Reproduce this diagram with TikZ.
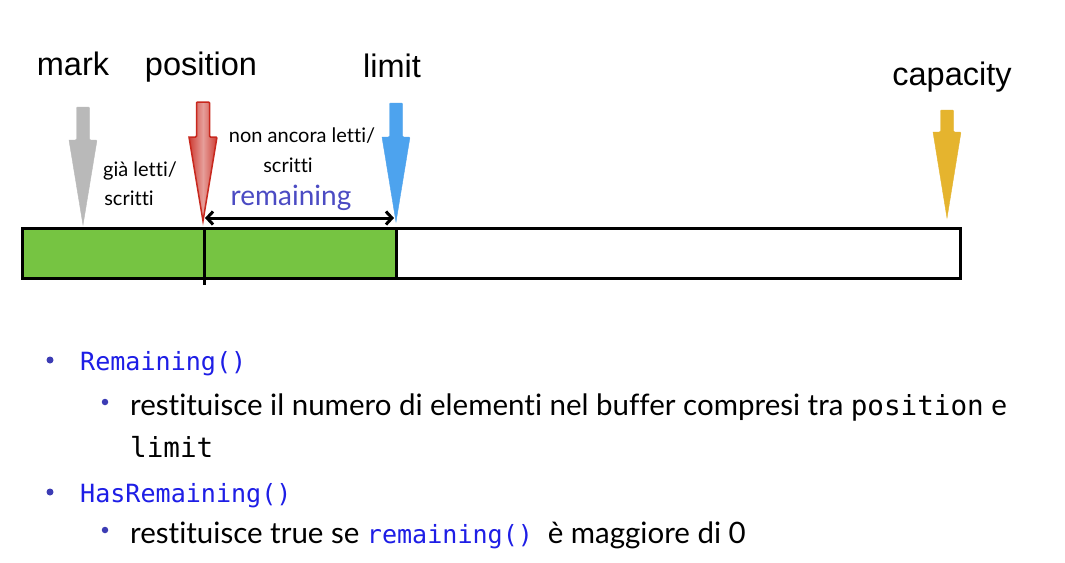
\documentclass[tikz,border=0pt]{standalone}
\usepackage{fontspec}
\setmainfont{Lato}[Ligatures={NoCommon}]
\setmonofont{DejaVu Sans Mono}[Scale=0.85]
\newfontfamily\helv{Liberation Sans}
\usetikzlibrary{positioning,arrows.meta}
\definecolor{bargreen}{HTML}{76C442}
\definecolor{ptrgray}{HTML}{B9B9B9}
\definecolor{ptrblue}{HTML}{4DA3EE}
\definecolor{ptryellow}{HTML}{E5B42E}
\definecolor{ptrred}{HTML}{C8281E}
\definecolor{codeblue}{HTML}{1E1EE6}
\definecolor{remblue}{HTML}{4B4BC3}
\definecolor{dotblue}{HTML}{3C3CB4}
\tikzset{
  toplabel/.style={inner sep=0mm, anchor=base, font=\helv\fontsize{32.5}{38}\selectfont},
  note/.style={inner sep=0mm, anchor=base, font=\fontsize{20}{24}\selectfont},
  line/.style={inner sep=0mm, anchor=base west, font=\fontsize{29.5}{34}\selectfont},
  dot/.style={circle, fill=dotblue, inner sep=0mm, minimum size=#1},
  barline/.style={line width=3pt, line cap=rect}
}
% x, top of shaft, start of head, tip
\newcommand{\pointer}[5]{
  \filldraw[#1, rounded corners=1pt] (#2-6.5,#3) -- (#2+6.5,#3) -- (#2+6.5,#4)
    -- (#2+14,#4) [sharp corners] -- (#2,#5) -- (#2-14,#4) [rounded corners=1pt]
    -- (#2-6.5,#4) -- cycle;
}
\newcommand{\bigcode}[1]{{\fontsize{32.5}{34}\selectfont\texttt{#1}}}

\begin{document}
\begin{tikzpicture}[x=1pt, y=-1pt]
   \useasboundingbox[fill=white] (0,0) rectangle (1065,562);

   % labels on top
   \node[toplabel] (mark) at (73,75) {mark};
   \node[toplabel] (pos) at (201,75) {position};
   \node[toplabel] (lim) at (392,77) {limit};
   \node[toplabel] (cap) at (952,85) {capacity};

   % pointers
   \pointer{fill=ptrgray, draw=ptrgray}{83}{107}{140}{225}
   \pointer{left color=ptrred!90, right color=ptrred!90, middle color=ptrred!45,
     draw=ptrred, line width=1.5pt}{203}{102}{137}{221}
   \pointer{fill=ptrblue, draw=ptrblue}{396}{103}{137}{222}
   \pointer{fill=ptryellow, draw=ptryellow}{947}{110}{132}{218}

   \node[note] (gia) at (140,176) {già letti/};
   \node[note] (gia2) at (129,205) {scritti};
   \node[note] (non) at (302,142) {non ancora letti/};
   \node[note] (non2) at (288,172) {scritti};
   \node[note, text=remblue, font=\fontsize{28}{32}\selectfont] (rem) at (291,205) {remaining};

   % buffer
   \fill[bargreen] (22,228) rectangle (396,278);
   \draw[barline] (22,228) rectangle (960,278);
   \draw[barline] (396,228) -- (396,278);
   \draw[barline] (204,228) -- (204,283);

   \coordinate (postip) at (205,218);
   \coordinate (limtip) at (394,218);
   \draw[{Straight Barb[length=6pt,width=13pt]}-{Straight Barb[length=6pt,width=13pt]},
     line width=3pt] (postip) -- (limtip);

   % bullet list
   \node[dot=7pt] (b1) at (50,360) {};
   \node[line, text=codeblue] (r1) at (80,370) {\texttt{Remaining()}};
   \node[dot=6.5pt] (b2) at (105,402) {};
   \node[line] (r2) at (130,415) {restituisce il numero di elementi nel buffer compresi tra \bigcode{position} e};
   \node[line] (r3) at (130,457) {\bigcode{limit}};
   \node[dot=7pt] (b3) at (50,492) {};
   \node[line, text=codeblue] (r4) at (80,502) {\texttt{HasRemaining()}};
   \node[dot=6.5pt] (b4) at (105,530) {};
   \node[line] (r5) at (130,543) {restituisce true se \textcolor{codeblue}{\texttt{remaining()}}\hspace{0.5em}è maggiore di 0};
\end{tikzpicture}
\end{document}
